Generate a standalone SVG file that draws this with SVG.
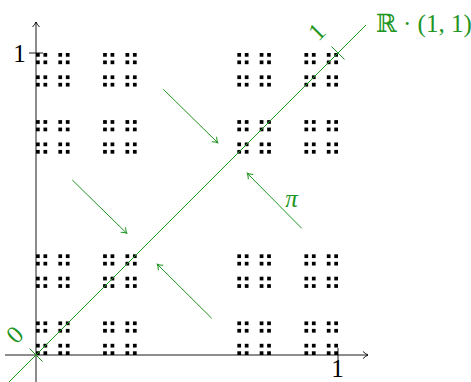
<svg xmlns="http://www.w3.org/2000/svg" xmlns:xlink="http://www.w3.org/1999/xlink" width="471" height="382" viewBox="0 0 471 382">
<style>
.ax{stroke:#000;stroke-width:0.9;fill:none}
.gr{stroke:#1f961f;stroke-width:1;fill:none}
.gt{fill:#1f961f;font-family:"Liberation Serif","DejaVu Serif",serif;font-size:25px}
.bt{fill:#000;font-family:"Liberation Serif",serif;font-size:25px}
.sq{fill:#000}
</style>
<defs>
<marker id="ah" viewBox="-6 -5 8 10" markerWidth="8" markerHeight="10" refX="0" refY="0" orient="auto" markerUnits="userSpaceOnUse">
<path d="M-5,-3.5 Q-2,-0.8 0,0 Q-2,0.8 -5,3.5" fill="none" stroke="#000" stroke-width="0.9"/>
</marker>
<marker id="gh" viewBox="-6 -5 8 10" markerWidth="8" markerHeight="10" refX="0" refY="0" orient="auto" markerUnits="userSpaceOnUse">
<path d="M-5,-3.5 Q-2,-0.8 0,0 Q-2,0.8 -5,3.5" fill="none" stroke="#1f961f" stroke-width="1"/>
</marker>
<g id="d1" class="sq">
<rect x="0" y="0" width="3.73" height="3.73"/>
<rect x="7.457" y="0" width="3.73" height="3.73"/>
<rect x="0" y="7.457" width="3.73" height="3.73"/>
<rect x="7.457" y="7.457" width="3.73" height="3.73"/>
</g>
<g id="d2">
<use xlink:href="#d1"/>
<use xlink:href="#d1" x="22.370"/>
<use xlink:href="#d1" y="22.370"/>
<use xlink:href="#d1" x="22.370" y="22.370"/>
</g>
<g id="d3">
<use xlink:href="#d2"/>
<use xlink:href="#d2" x="67.111"/>
<use xlink:href="#d2" y="67.111"/>
<use xlink:href="#d2" x="67.111" y="67.111"/>
</g>
</defs>
<g id="dust" transform="translate(36,53)">
<use xlink:href="#d3"/>
<use xlink:href="#d3" x="201.33"/>
<use xlink:href="#d3" y="201.33"/>
<use xlink:href="#d3" x="201.33" y="201.33"/>
</g>
<g id="axes">
<line class="ax" x1="5" y1="355" x2="368" y2="355" marker-end="url(#ah)"/>
<line class="ax" x1="36" y1="382" x2="36" y2="22" marker-end="url(#ah)"/>
<line class="ax" x1="29" y1="53" x2="43" y2="53"/>
<line class="ax" x1="338" y1="348" x2="338" y2="362"/>
<text class="bt" x="19.5" y="61.5" text-anchor="middle">1</text>
<text class="bt" x="337.5" y="377" text-anchor="middle" font-size="24">1</text>
</g>
<g id="line">
<line class="gr" x1="9" y1="382" x2="366" y2="25"/>
<line class="gr" x1="29.5" y1="348.5" x2="42.5" y2="361.5"/>
<line class="gr" x1="331.5" y1="46.5" x2="344.5" y2="59.5"/>
<text class="gt" transform="translate(15,335) rotate(-45)" x="0" y="8" text-anchor="middle">0</text>
<text class="gt" transform="translate(317,32) rotate(-45)" x="0" y="8" text-anchor="middle">1</text>
<text class="gt" x="376" y="32">ℝ · (1, 1)</text>
</g>
<g id="connectors">
<line class="gr" x1="163.3" y1="89.3" x2="217.7" y2="142.7" marker-end="url(#gh)"/>
<line class="gr" x1="72.3" y1="180" x2="126.7" y2="233.3" marker-end="url(#gh)"/>
<line class="gr" x1="301.7" y1="228.3" x2="247.3" y2="173.3" marker-end="url(#gh)"/>
<line class="gr" x1="211.7" y1="318.3" x2="157.3" y2="264.3" marker-end="url(#gh)"/>
<text class="gt" x="291.5" y="207" text-anchor="middle" font-style="italic">π</text>
</g>
</svg>
